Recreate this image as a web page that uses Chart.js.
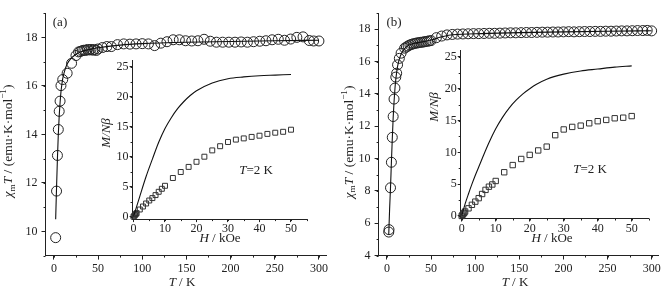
<!DOCTYPE html>
<html>
<head>
<meta charset="utf-8">
<script src="https://cdn.jsdelivr.net/npm/chart.js@4.4.1/dist/chart.umd.min.js"></script>
<style>
  html, body { margin: 0; padding: 0; background: #fff; }
  #wrap { position: relative; width: 672px; height: 291px; overflow: hidden; }
  .box { position: absolute; }
</style>
</head>
<body>
<div id="wrap">
  <div class="box" style="left:0;top:0;width:336px;height:291px"><canvas id="mainA" width="336" height="291"></canvas></div>
  <div class="box" style="left:336px;top:0;width:336px;height:291px"><canvas id="mainB" width="336" height="291"></canvas></div>
  <div class="box" style="left:95px;top:50px;width:225px;height:200px"><canvas id="insetA" width="225" height="200"></canvas></div>
  <div class="box" style="left:420px;top:40px;width:250px;height:210px"><canvas id="insetB" width="250" height="210"></canvas></div>
</div>
<script>
// ---- data ----
// panel (a): chi_m T vs T
const aTemp = [2, 3, 4, 5, 6, 7, 8, 10, 15, 20, 25, 28,
  30, 32, 34, 36, 38, 40, 42, 44, 46, 48, 50, 55, 60, 65,
  72, 79, 86, 93, 100, 107, 114, 121, 128, 135, 142, 149, 156, 163, 170, 177,
  184, 191, 198, 205, 212, 219, 226, 233, 240, 247, 254, 261, 268, 275, 282, 289, 294, 300];
const aChiT = [9.74, 11.66, 13.13, 14.2, 14.95, 15.37, 16.01, 16.26, 16.52, 16.93, 17.25, 17.4,
  17.42, 17.45, 17.47, 17.46, 17.5, 17.48, 17.5, 17.47, 17.5, 17.46, 17.52, 17.58, 17.62, 17.62,
  17.7, 17.73, 17.72, 17.73, 17.74, 17.73, 17.66, 17.76, 17.82, 17.9, 17.9, 17.86, 17.85, 17.86, 17.92, 17.84,
  17.8, 17.8, 17.8, 17.8, 17.81, 17.8, 17.82, 17.84, 17.86, 17.9, 17.92, 17.88, 17.93, 18.0, 18.02, 17.87, 17.85, 17.85];
const aFitT = [2, 3, 4, 5, 6, 7, 8, 9, 10, 12, 15, 20, 25, 30, 40, 50, 75, 100, 150, 200, 250, 300];
const aFitV = [10.5, 11.8, 13.0, 14.0, 14.75, 15.3, 15.75, 16.05, 16.3, 16.6, 16.9, 17.15, 17.3, 17.4, 17.5, 17.57, 17.68, 17.74, 17.8, 17.83, 17.86, 17.88];

// panel (b): chi_m T vs T
const bTemp = [2, 2.3, 4, 5, 6, 7, 8, 9, 10, 11, 12, 14, 16,
  20, 22, 24, 26, 28, 30, 32, 34, 36, 38, 40, 42, 44, 46, 48, 50,
  56, 62, 68, 74, 80, 86, 92, 98, 104, 110, 116, 122, 128, 134, 140, 146, 152, 158, 164, 170,
  176, 182, 188, 194, 200, 206, 212, 218, 224, 230, 236, 242, 248, 254, 260, 266, 272, 278, 284, 290, 295, 300];
const bChiT = [5.45, 5.6, 8.19, 9.77, 11.31, 12.6, 13.68, 14.36, 15.04, 15.28, 15.8, 16.2, 16.52,
  16.83, 16.9, 16.97, 17.03, 17.07, 17.1, 17.13, 17.15, 17.17, 17.19, 17.2, 17.22, 17.24, 17.26, 17.28, 17.3,
  17.48, 17.58, 17.65, 17.68, 17.7, 17.71, 17.72, 17.73, 17.73, 17.74, 17.75, 17.75, 17.76, 17.77, 17.78, 17.78, 17.79, 17.8, 17.8, 17.81,
  17.82, 17.82, 17.83, 17.83, 17.84, 17.85, 17.84, 17.85, 17.86, 17.86, 17.87, 17.87, 17.88, 17.88, 17.89, 17.9, 17.9, 17.91, 17.92, 17.92, 17.93, 17.9];
const bFitT = [2, 3, 4, 5, 6, 7, 8, 9, 10, 12, 14, 16, 20, 25, 30, 40, 50, 60, 70, 100, 150, 200, 250, 300];
const bFitV = [5.3, 6.9, 8.2, 9.75, 11.2, 12.5, 13.5, 14.3, 14.9, 15.7, 16.15, 16.45, 16.8, 17.02, 17.12, 17.22, 17.33, 17.5, 17.63, 17.72, 17.79, 17.84, 17.88, 17.91];

// insets: M/Nbeta vs H at 2 K
const fieldH = [0, 0.25, 0.5, 0.75, 1, 2, 3, 4, 5, 6, 7, 8, 9, 10,
  12.5, 15, 17.5, 20, 22.5, 25, 27.5, 30, 32.5, 35, 37.5, 40, 42.5, 45, 47.5, 50];
const aMag = [0, 0.15, 0.3, 0.45, 0.6, 1.2, 1.7, 2.2, 2.7, 3.1, 3.6, 4.15, 4.65, 5.15,
  6.45, 7.45, 8.3, 9.15, 10.0, 11.05, 11.75, 12.45, 12.85, 13.05, 13.3, 13.5, 13.8, 14.0, 14.15, 14.5];
const bMag = [0, 0.18, 0.35, 0.5, 0.7, 1.2, 1.75, 2.25, 2.8, 3.45, 4.1, 4.6, 4.95, 5.5,
  6.87, 8.0, 8.96, 9.6, 10.3, 10.9, 12.7, 13.6, 14.0, 14.2, 14.57, 14.9, 15.1, 15.36, 15.45, 15.7];
const aFitH = [0, 2, 4, 6, 8, 10, 12, 14, 16, 18, 20, 25, 30, 35, 40, 45, 50];
const aFitM = [0, 3.4, 6.7, 9.6, 12.4, 14.7, 16.5, 18.0, 19.2, 20.2, 21.0, 22.3, 23.0, 23.3, 23.5, 23.6, 23.7];
const bFitH = [0, 1, 2, 3, 4, 5, 6, 8, 10, 12, 14, 16, 18, 20, 22, 25, 30, 35, 40, 45, 50];
const bFitM = [0, 1.9, 3.5, 5.0, 6.4, 7.7, 9.0, 11.5, 13.7, 15.5, 17.0, 18.2, 19.2, 20.0, 20.7, 21.5, 22.3, 22.8, 23.1, 23.4, 23.6];

// tick labels
const tempTicks = [0, 50, 100, 150, 200, 250, 300];
const aChiTicks = [10, 12, 14, 16, 18];
const bChiTicks = [4, 6, 8, 10, 12, 14, 16, 18];
const fieldTicks = [0, 10, 20, 30, 40, 50];
const magTicks = [0, 5, 10, 15, 20, 25];

// ---- helpers ----
const INK = '#222';
const SERIF = '"Liberation Serif", "Times New Roman", serif';
const zip = (xs, ys) => xs.map((x, i) => ({ x: x, y: ys[i] }));

function drawRich(ctx, it) {
  const size = it.size || 13;
  const fontOf = s => (s.i ? 'italic ' : '') + ((s.sub || s.sup) ? size * 0.68 : size) + 'px ' + SERIF;
  ctx.save();
  ctx.translate(it.x, it.y);
  if (it.rot) ctx.rotate(it.rot);
  let total = 0;
  for (const s of it.segs) { ctx.font = fontOf(s); total += ctx.measureText(s.t).width; }
  let cx = -total / 2;
  ctx.textBaseline = 'middle';
  ctx.textAlign = 'left';
  ctx.fillStyle = INK;
  for (const s of it.segs) {
    ctx.font = fontOf(s);
    const dy = s.sub ? size * 0.3 : (s.sup ? -size * 0.35 : 0);
    ctx.fillText(s.t, cx, dy);
    cx += ctx.measureText(s.t).width;
  }
  ctx.restore();
}

function textPlugin(items) {
  return { id: 'richText', afterDraw(chart) { items.forEach(it => drawRich(chart.ctx, it)); } };
}

// small minor ticks between the labelled ones
function minorPlugin(xStep, yStep) {
  return {
    id: 'minorTicks',
    afterDraw(chart) {
      const ctx = chart.ctx, area = chart.chartArea;
      const xs = chart.scales.x, ys = chart.scales.y;
      ctx.save();
      ctx.strokeStyle = INK;
      ctx.lineWidth = 1;
      ctx.beginPath();
      for (let k = Math.ceil(xs.min / xStep); k * xStep <= xs.max; k++) {
        const p = Math.round(xs.getPixelForValue(k * xStep)) + 0.5;
        ctx.moveTo(p, area.bottom);
        ctx.lineTo(p, area.bottom + 2);
      }
      for (let k = Math.ceil(ys.min / yStep); k * yStep <= ys.max; k++) {
        const p = Math.round(ys.getPixelForValue(k * yStep)) + 0.5;
        ctx.moveTo(area.left, p);
        ctx.lineTo(area.left - 2, p);
      }
      ctx.stroke();
      ctx.restore();
    }
  };
}

function makeChart(id, o) {
  const tickFont = { family: SERIF, size: 12 };
  return new Chart(document.getElementById(id), {
    type: 'scatter',
    data: { datasets: o.datasets },
    options: {
      responsive: false,
      animation: false,
      events: [],
      layout: { autoPadding: false, padding: o.pad },
      plugins: { legend: { display: false }, tooltip: { enabled: false } },
      scales: {
        x: {
          type: 'linear', min: o.x[0], max: o.x[1],
          afterBuildTicks: s => { s.ticks = o.xTicks.map(v => ({ value: v })); },
          afterFit: s => { s.height = o.xH; },
          grid: { drawOnChartArea: false, tickLength: o.tl, color: INK },
          border: { color: INK, width: 1 },
          ticks: { font: tickFont, color: INK, padding: o.xPad, maxRotation: 0, autoSkip: false }
        },
        y: {
          type: 'linear', min: o.y[0], max: o.y[1],
          afterBuildTicks: s => { s.ticks = o.yTicks.map(v => ({ value: v })); },
          afterFit: s => { s.width = o.yW; },
          grid: { drawOnChartArea: false, tickLength: o.tl, color: INK },
          border: { color: INK, width: 1 },
          ticks: { font: tickFont, color: INK, padding: o.yPad, autoSkip: false }
        }
      }
    },
    plugins: [minorPlugin(o.xMinor, o.yMinor), textPlugin(o.texts)]
  });
}

function circles(xs, ys) {
  return { data: zip(xs, ys), pointStyle: 'circle', pointRadius: 5, borderWidth: 1,
    borderColor: INK, backgroundColor: 'rgba(0,0,0,0)', showLine: false, clip: false };
}
function squares(xs, ys, r) {
  return { data: zip(xs, ys), pointStyle: 'rect', pointRadius: r, borderWidth: 1,
    borderColor: '#333', backgroundColor: 'rgba(0,0,0,0)', showLine: false, clip: false };
}
function curve(xs, ys) {
  return { data: zip(xs, ys), showLine: true, pointRadius: 0, borderWidth: 1.1,
    borderColor: '#111', cubicInterpolationMode: 'monotone', fill: false };
}

const chiTitle = [{ t: 'χ', i: 1 }, { t: 'm', sub: 1 }, { t: 'T', i: 1 }, { t: ' / (emu·K·mol' }, { t: '−1', sup: 1 }, { t: ')' }];
const tTitle = [{ t: 'T', i: 1 }, { t: ' / K' }];
const mTitle = [{ t: 'M/Nβ', i: 1 }];
const hTitle = [{ t: 'H', i: 1 }, { t: ' / kOe' }];
const tempNote = [{ t: 'T', i: 1 }, { t: '=2 K' }];

// ---- panel (a) ----
makeChart('mainA', {
  x: [-9.5, 308], y: [9, 19], xTicks: tempTicks, yTicks: aChiTicks, xMinor: 25, yMinor: 1,
  pad: { left: 0, top: 13.1, right: 10, bottom: 0 }, yW: 45.5, xH: 35.4, tl: 4, xPad: 2, yPad: 4,
  datasets: [curve(aFitT, aFitV), circles(aTemp, aChiT)],
  texts: [
    { x: 8.5, y: 141, rot: -Math.PI / 2, size: 13.5, segs: chiTitle },
    { x: 182, y: 283, segs: tTitle },
    { x: 60, y: 23, segs: [{ t: '(a)' }] }
  ]
});

makeChart('insetA', {
  x: [-0.3, 55], y: [-0.4, 26], xTicks: fieldTicks, yTicks: magTicks, xMinor: 5, yMinor: 2.5,
  pad: { left: 0, top: 10.7, right: 13.25, bottom: 0 }, yW: 37.55, xH: 30.9, tl: 3, xPad: 0, yPad: 1,
  datasets: [curve(aFitH, aFitM), squares(fieldH, aMag, 3.5)],
  texts: [
    { x: 12, y: 83, rot: -Math.PI / 2, segs: mTitle },
    { x: 125, y: 189, segs: hTitle },
    { x: 161, y: 121, segs: tempNote }
  ]
});

// ---- panel (b) ----
makeChart('mainB', {
  x: [-9.5, 308], y: [4, 19], xTicks: tempTicks, yTicks: bChiTicks, xMinor: 25, yMinor: 1,
  pad: { left: 0, top: 13.1, right: 13.3, bottom: 0 }, yW: 42.6, xH: 35.5, tl: 4, xPad: 2, yPad: 4,
  datasets: [curve(bFitT, bFitV), circles(bTemp, bChiT)],
  texts: [
    { x: 13, y: 142, rot: -Math.PI / 2, size: 13.5, segs: chiTitle },
    { x: 179, y: 283, segs: tTitle },
    { x: 58, y: 23, segs: [{ t: '(b)' }] }
  ]
});

makeChart('insetB', {
  x: [-0.3, 55], y: [-0.4, 26], xTicks: fieldTicks, yTicks: magTicks, xMinor: 5, yMinor: 2.5,
  pad: { left: 0, top: 10.6, right: 21.3, bottom: 0 }, yW: 40.7, xH: 31.5, tl: 3, xPad: 0, yPad: 1,
  datasets: [curve(bFitH, bFitM), squares(fieldH, bMag, 3.8)],
  texts: [
    { x: 15, y: 67, rot: -Math.PI / 2, segs: mTitle },
    { x: 132, y: 199, segs: hTitle },
    { x: 170, y: 130, segs: tempNote }
  ]
});
</script>
</body>
</html>
